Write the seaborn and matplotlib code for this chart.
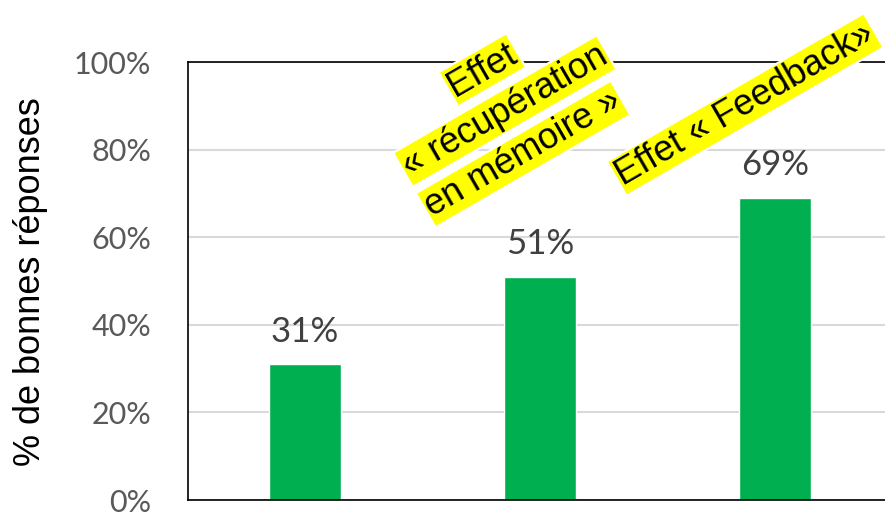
import numpy as np
import pandas as pd
import seaborn as sns
import matplotlib.pyplot as plt
from matplotlib.ticker import PercentFormatter

conditions = ["Contrôle", "Récupération", "Feedback"]
scores = [0.31, 0.51, 0.69]
value_labels = ["31%", "51%", "69%"]
y_ticks = [0.0, 0.2, 0.4, 0.6, 0.8, 1.0]


def main():
    sns.set_theme(style="white")
    plt.rcParams["font.family"] = ["Liberation Sans", "DejaVu Sans"]

    df = pd.DataFrame({"condition": conditions, "score": scores})

    fig = plt.figure(figsize=(8.85, 5.13), dpi=100)
    ax = fig.add_axes([187.5 / 885, 13 / 513, 705 / 885, 438 / 513])

    sns.barplot(data=df, x="condition", y="score", color="#00B050",
                width=0.31, saturation=1, ax=ax)

    ax.set_xlim(-0.5, 2.5)
    ax.set_ylim(0, 1)
    ax.set_yticks(y_ticks)
    ax.yaxis.set_major_formatter(PercentFormatter(1.0, decimals=0))
    ax.grid(axis="y", color="#D9D9D9", linewidth=1.5)
    ax.set_axisbelow(True)
    ax.set_xticks([])
    ax.set_xlabel("")
    ax.set_ylabel("")
    ax.tick_params(axis="y", length=0, pad=26, labelsize=22, labelcolor="#595959")
    for lab in ax.get_yticklabels():
        lab.set_fontfamily("Lato")
    for s in ["left", "bottom", "top", "right"]:
        ax.spines[s].set_visible(True)
        ax.spines[s].set_color("#000000")
        ax.spines[s].set_linewidth(1.2)

    fig.text(31 / 885, 1 - 282 / 513, "% de bonnes réponses", rotation=90,
             ha="center", va="center", fontsize=26, color="black")

    for i, (v, lab) in enumerate(zip(scores, value_labels)):
        ax.annotate(lab, (i, v), xytext=(0, 12), textcoords="offset points",
                    ha="center", va="bottom", fontsize=25, color="#404040",
                    fontfamily="Lato")

    # yellow highlight, white edge keeps the stacked lines visually separate
    box = dict(boxstyle="square,pad=0.06", facecolor="#FFFF00",
               edgecolor="white", linewidth=1.5)
    notes = [
        ("Effet", 0.418, 0.982),
        ("« récupération", 0.450, 0.888),
        ("en mémoire »", 0.476, 0.790),
        ("Effet « Feedback»", 0.791, 0.903),
    ]
    for txt, x, y in notes:
        ax.text(x, y, txt, transform=ax.transAxes, rotation=30,
                rotation_mode="anchor", ha="center", va="center",
                fontsize=26, color="black", bbox=box, clip_on=False)

    fig.savefig("out.png", dpi=100)
    plt.close(fig)


if __name__ == "__main__":
    main()
